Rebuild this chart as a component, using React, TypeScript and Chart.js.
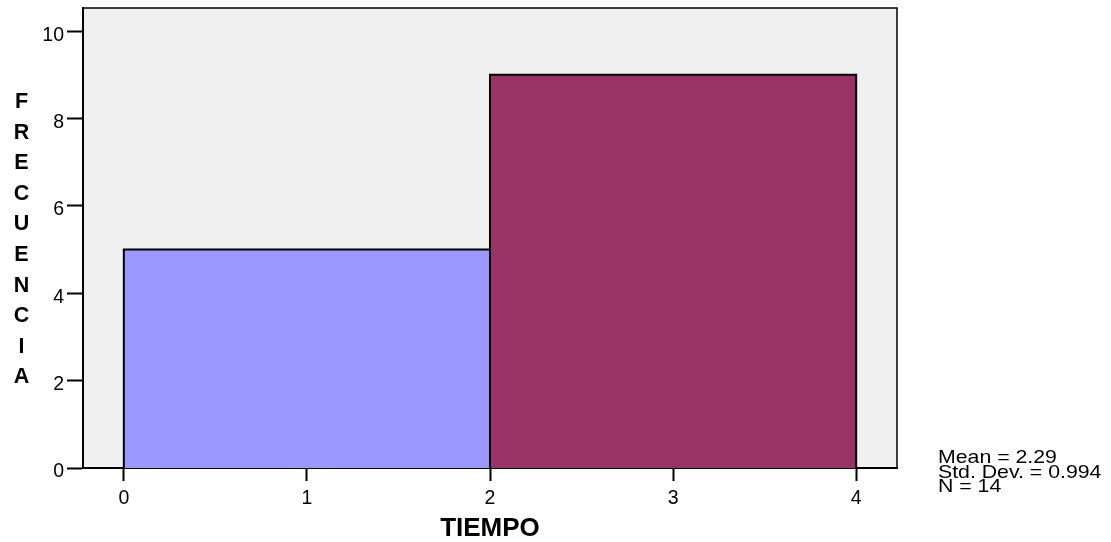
import React, { useEffect, useRef } from 'react';
import { Chart, registerables } from 'chart.js';

Chart.register(...registerables);

// ---- data ----
const binEdges = [0, 2, 4];
const binCounts = [5, 9];
const binColors = ['#9999ff', '#993366'];
const xTickValues = [0, 1, 2, 3, 4];
const yTickValues = [0, 2, 4, 6, 8, 10];
const yTitleLetters = ['F', 'R', 'E', 'C', 'U', 'E', 'N', 'C', 'I', 'A'];
const statsLines = ['Mean = 2.29', 'Std. Dev. = 0.994', 'N = 14'];
const xTitle = 'TIEMPO';
const xRange = [-0.223, 4.223];
const yRange = [0, 10.53];

const FONT = '"Liberation Sans", Arial, Helvetica, sans-serif';

const framePlugin = {
  id: 'frame',
  beforeDraw(chart: any) {
    const { ctx, chartArea: a } = chart;
    ctx.save();
    ctx.fillStyle = '#f0f0f0';
    ctx.fillRect(a.left, a.top, a.right - a.left, a.bottom - a.top);
    ctx.restore();
  },
  afterDraw(chart: any) {
    const { ctx, chartArea: a } = chart;
    ctx.save();
    // top and right frame
    ctx.strokeStyle = '#000';
    ctx.lineWidth = 1.5;
    ctx.beginPath();
    ctx.moveTo(a.left, a.top);
    ctx.lineTo(a.right, a.top);
    ctx.lineTo(a.right, a.bottom);
    ctx.stroke();

    // stacked y title
    ctx.fillStyle = '#000';
    ctx.font = `bold 21.5px ${FONT}`;
    ctx.textAlign = 'center';
    ctx.textBaseline = 'alphabetic';
    yTitleLetters.forEach((ch, i) => {
      ctx.fillText(ch, 21.5, 108 + i * 30.6);
    });

    // stats
    ctx.font = `18.5px ${FONT}`;
    ctx.textAlign = 'left';
    statsLines.forEach((t, i) => {
      ctx.save();
      ctx.translate(938, 463 + i * 14.5);
      ctx.scale(1.15, 1);
      ctx.fillText(t, 0, 0);
      ctx.restore();
    });
    ctx.restore();
  },
};

export default function App() {
  const ref = useRef<HTMLCanvasElement | null>(null);

  useEffect(() => {
    if (!ref.current) return;
    const datasets = binCounts.map((c, i) => ({
      data: [
        { x: binEdges[i], y: 0 },
        { x: binEdges[i], y: c },
        { x: binEdges[i + 1], y: c },
        { x: binEdges[i + 1], y: 0 },
      ],
      showLine: true,
      fill: 'origin',
      backgroundColor: binColors[i],
      borderColor: '#000',
      borderWidth: 2,
      pointRadius: 0,
      pointHoverRadius: 0,
      tension: 0,
    }));

    const chart = new Chart(ref.current, {
      type: 'scatter',
      data: { datasets: datasets as any },
      options: {
        animation: false,
        responsive: false,
        layout: { padding: { left: 0, right: 214, top: 8, bottom: 0 } },
        plugins: { legend: { display: false }, tooltip: { enabled: false } },
        scales: {
          x: {
            type: 'linear',
            min: xRange[0],
            max: xRange[1],
            afterBuildTicks: (s: any) => {
              s.ticks = xTickValues.map((v) => ({ value: v }));
            },
            afterFit: (s: any) => {
              s.height = 74;
              s.paddingLeft = 0;
              s.paddingRight = 0;
            },
            grid: {
              drawOnChartArea: false,
              drawTicks: true,
              tickLength: 13,
              tickWidth: 2,
              tickColor: '#000',
            },
            border: { display: true, color: '#000', width: 2 },
            ticks: {
              color: '#000',
              font: { family: FONT, size: 19.5 },
              padding: 6,
              maxRotation: 0,
              autoSkip: false,
            },
            title: {
              display: true,
              text: xTitle,
              color: '#000',
              font: { family: FONT, size: 26, weight: 'bold', lineHeight: 1 },
              padding: { top: 0, bottom: 0 },
            },
          },
          y: {
            type: 'linear',
            min: yRange[0],
            max: yRange[1],
            afterBuildTicks: (s: any) => {
              s.ticks = yTickValues.map((v) => ({ value: v }));
            },
            afterFit: (s: any) => {
              s.width = 83;
              s.paddingTop = 0;
              s.paddingBottom = 0;
            },
            grid: {
              drawOnChartArea: false,
              drawTicks: true,
              tickLength: 16,
              tickWidth: 2,
              tickColor: '#000',
            },
            border: { display: true, color: '#000', width: 2 },
            ticks: {
              color: '#000',
              font: { family: FONT, size: 19.5 },
              padding: 3,
              labelOffset: 4,
              autoSkip: false,
            },
          },
        },
      },
      plugins: [framePlugin],
    });
    return () => chart.destroy();
  }, []);

  return (
    <div style={{ position: 'absolute', left: 0, top: 0, width: 1111, height: 542 }}>
      <canvas ref={ref} width={1111} height={542} style={{ display: 'block' }} />
    </div>
  );
}
